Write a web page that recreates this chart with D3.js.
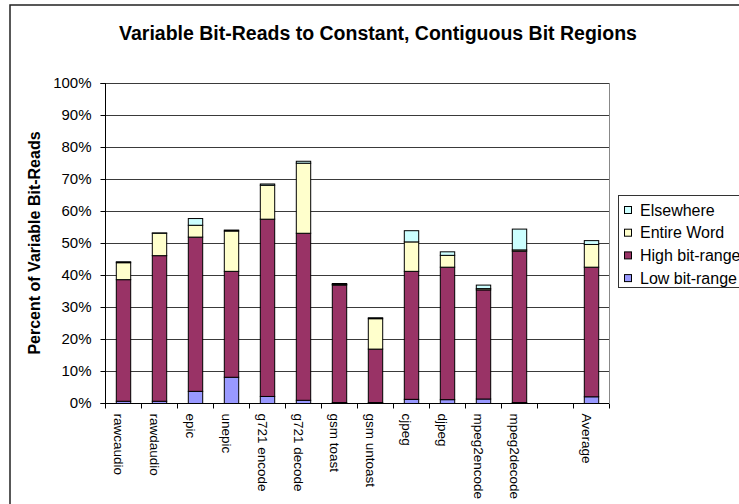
<!DOCTYPE html>
<html>
<head>
<meta charset="utf-8">
<script src="https://cdn.jsdelivr.net/npm/d3@7"></script>
<style>
  body { margin: 0; background: #fff; }
  text { font-family: "Liberation Sans", Arial, sans-serif; }
</style>
</head>
<body>
<script>
// benchmarks (one empty slot before the Average bar)
const categories = ["rawcaudio", "rawdaudio", "epic", "unepic", "g721 encode", "g721 decode",
  "gsm toast", "gsm untoast", "cjpeg", "djpeg", "mpeg2encode", "mpeg2decode", "", "Average"];

// percent of variable bit-reads
const lowBitRange  = [0.7, 0.7, 3.8, 8.2, 2.2, 1.0, 0.3, 0.3, 1.3, 1.2, 1.4, 0.3, null, 2.1];
const highBitRange = [38.0, 45.5, 48.2, 33.1, 55.4, 52.2, 36.7, 16.7, 40.0, 41.4, 34.1, 47.3, null, 40.5];
const entireWord   = [5.3, 7.0, 3.7, 12.6, 10.6, 21.9, 0.2, 9.5, 9.2, 3.7, 0.4, 0.4, null, 7.1];
const elsewhere    = [0.3, 0.1, 2.1, 0.3, 0.4, 0.6, 0.3, 0.3, 3.5, 1.1, 1.1, 6.5, null, 1.2];

const seriesNames = ["Low bit-range", "High bit-range", "Entire Word", "Elsewhere"];
const seriesColors = ["#9999ff", "#993366", "#ffffcc", "#ccffff"];
const yTicks = [0, 10, 20, 30, 40, 50, 60, 70, 80, 90, 100];

const width = 739;
const height = 504;
const marginTop = 83;
const marginBottom = 101;
const marginLeft = 105;
const plotRight = 609;

const rows = categories.map((c, i) => ({
  key: i, name: c,
  "Low bit-range": lowBitRange[i], "High bit-range": highBitRange[i],
  "Entire Word": entireWord[i], "Elsewhere": elsewhere[i]
}));

const series = d3.stack().keys(seriesNames)(rows.filter(d => d.name !== ""));

const x = d3.scaleBand()
    .domain(rows.map(d => d.key))
    .range([marginLeft, plotRight])
    .padding(0);

const y = d3.scaleLinear()
    .domain([0, 100])
    .range([height - marginBottom, marginTop]);

const color = d3.scaleOrdinal().domain(seriesNames).range(seriesColors);

const svg = d3.select("body").append("svg")
    .attr("width", width)
    .attr("height", height)
    .attr("viewBox", [0, 0, width, height]);

// chart frame
svg.append("rect")
    .attr("x", 10).attr("y", 5)
    .attr("width", 760).attr("height", 520)
    .attr("fill", "#fff").attr("stroke", "#222").attr("stroke-width", 1.5);

// title
svg.append("text")
    .attr("x", 378).attr("y", 40)
    .attr("text-anchor", "middle")
    .attr("font-size", 19.5).attr("font-weight", "bold")
    .text("Variable Bit-Reads to Constant, Contiguous Bit Regions");

// gridlines
svg.append("g")
  .selectAll("line")
  .data(yTicks.slice(1))
  .join("line")
    .attr("x1", marginLeft).attr("x2", plotRight)
    .attr("y1", d => y(d) + 0.5).attr("y2", d => y(d) + 0.5)
    .attr("stroke", "#3a3a3a");

// plot area right edge
svg.append("line")
    .attr("x1", plotRight + 0.5).attr("x2", plotRight + 0.5)
    .attr("y1", y(100)).attr("y2", y(0))
    .attr("stroke", "#888");

// bars
const barW = x.bandwidth() * 0.4;
svg.append("g")
  .selectAll("g")
  .data(series)
  .join("g")
    .attr("fill", d => color(d.key))
  .selectAll("rect")
  .data(D => D)
  .join("rect")
    .attr("x", d => x(d.data.key) + (x.bandwidth() - barW) / 2 + 0.5)
    .attr("y", d => y(d[1]) + 0.5)
    .attr("width", barW)
    .attr("height", d => y(d[0]) - y(d[1]))
    .attr("stroke", "#000")
    .attr("stroke-width", 1);

// y axis
svg.append("g")
    .attr("transform", `translate(${marginLeft + 0.5},0)`)
    .call(d3.axisLeft(y).tickValues(yTicks).tickFormat(d => d + "%").tickSize(5).tickPadding(9))
    .call(g => g.select(".domain").attr("stroke", "#000").attr("d", `M-5,${y(100) + 0.5}H0V${y(0) + 0.5}H-5`))
    .call(g => g.selectAll(".tick line").attr("stroke", "#000"))
    .call(g => g.selectAll("text")
        .attr("font-family", "Liberation Sans, Arial, sans-serif")
        .attr("font-size", 15).attr("fill", "#000"));

// x axis
const xAxis = svg.append("g")
    .attr("transform", `translate(0,${y(0) + 0.5})`);
xAxis.append("line")
    .attr("x1", marginLeft).attr("x2", plotRight)
    .attr("stroke", "#000");
xAxis.selectAll(".tk")
  .data(rows.map(d => x(d.key)).concat([plotRight]))
  .join("line")
    .attr("class", "tk")
    .attr("x1", d => Math.round(d) + 0.5).attr("x2", d => Math.round(d) + 0.5)
    .attr("y1", 0).attr("y2", 5)
    .attr("stroke", "#000");
xAxis.selectAll(".lbl")
  .data(rows)
  .join("text")
    .attr("class", "lbl")
    .attr("transform", d => `translate(${x(d.key) + x.bandwidth() / 2},10) rotate(90)`)
    .attr("y", 9.5)
    .attr("font-size", 13.5)
    .text(d => d.name);

// y axis title
svg.append("text")
    .attr("transform", `translate(40,${(y(0) + y(100)) / 2}) rotate(-90)`)
    .attr("text-anchor", "middle")
    .attr("font-size", 16).attr("font-weight", "bold")
    .text("Percent of Variable Bit-Reads");

// legend
const legend = svg.append("g");
legend.append("rect")
    .attr("x", 618.5).attr("y", 195.5)
    .attr("width", 140).attr("height", 92)
    .attr("fill", "#fff").attr("stroke", "#333");
const items = legend.selectAll("g")
  .data(seriesNames.slice().reverse())
  .join("g")
    .attr("transform", (d, i) => `translate(624,${210 + i * 22.7})`);
items.append("rect")
    .attr("x", 0.5).attr("y", -3.5)
    .attr("width", 7).attr("height", 7)
    .attr("fill", d => color(d)).attr("stroke", "#000");
items.append("text")
    .attr("x", 16).attr("y", 5.5)
    .attr("font-size", 16)
    .text(d => d);
</script>
</body>
</html>
